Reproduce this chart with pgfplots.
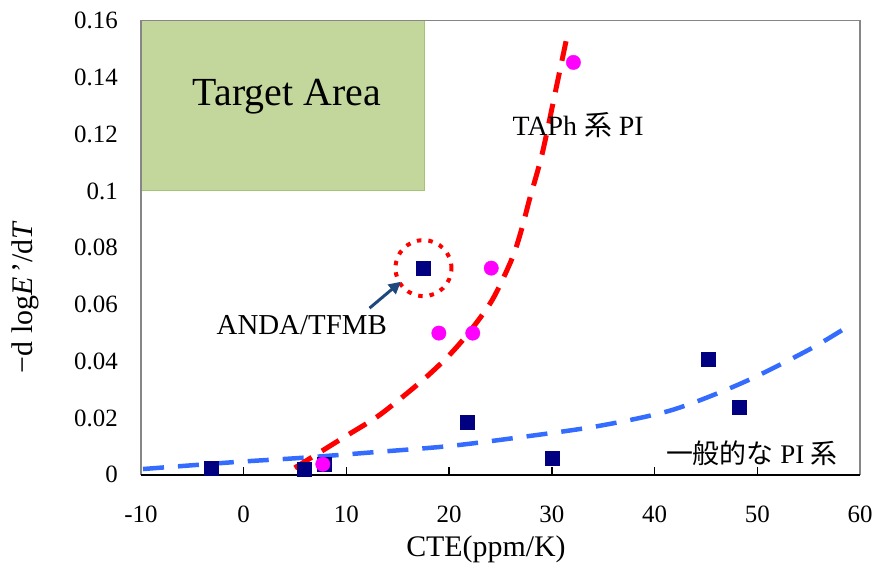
\documentclass[border=0pt]{standalone}
\usepackage{pgfplots}
\pgfplotsset{compat=1.18}
\usepackage{fontspec}
\setmainfont{Liberation Serif}
\newfontfamily\cjk{Noto Sans CJK JP}
\usetikzlibrary{arrows.meta}
\definecolor{navyc}{RGB}{0,0,128}
\definecolor{magc}{RGB}{255,0,255}
\definecolor{bluec}{RGB}{51,108,255}
\definecolor{greenfill}{RGB}{195,214,155}
\definecolor{greenedge}{RGB}{165,195,120}
\definecolor{arrowc}{RGB}{31,73,125}
\definecolor{framec}{RGB}{134,134,134}

\pgfplotstableread{
x y
-3.2 0.0024
5.9 0.0018
17.5 0.0728
21.8 0.0186
30.0 0.0059
45.2 0.0407
48.2 0.0238
7.8 0.0037
}\navydata

\pgfplotstableread{
x y
7.7 0.0037
19.0 0.0499
22.3 0.0499
24.1 0.0728
32.1 0.1453
}\magdata

\pgfplotstableread{
x y
4.97 0.0024
9.63 0.0129
12.94 0.0203
15.46 0.0274
17.8 0.0345
20.03 0.0422
21.97 0.0503
24.2 0.0616
26.15 0.0764
27.12 0.0873
27.8 0.0967
29.07 0.1133
30.52 0.1380
31.4 0.1531
}\redcurve

\pgfplotstableread{
x y
-9.8 0.0020
-0.67 0.0045
5.45 0.0059
12.93 0.0080
20.03 0.0101
27.12 0.0133
34.6 0.0172
41.7 0.0228
48.5 0.0323
55.0 0.0440
58.9 0.0524
}\bluecurve

\begin{document}
\begin{tikzpicture}
\begin{axis}[
  scale only axis, width=719bp, height=454bp,
  xmin=-10, xmax=60, ymin=0, ymax=0.16,
  clip=false,
  axis line style={draw=none},
  xtick={-10,0,10,20,30,40,50,60},
  xticklabels={-10,0,10,20,30,40,50,60},
  ytick={0,0.02,0.04,0.06,0.08,0.1,0.12,0.14,0.16},
  yticklabels={0,0.02,0.04,0.06,0.08,0.1,0.12,0.14,0.16},
  tick align=inside,
  xtick pos=bottom,
  major tick length=8bp,
  xtick style={draw=black, line width=1.5bp},
  ytick style={draw=none},
  ticklabel style={inner sep=0pt, font=\fontsize{25}{30}\selectfont},
  xticklabel style={anchor=north, yshift=-31bp},
  yticklabel style={anchor=east, xshift=-23bp},
  xlabel={CTE(ppm/K)},
  ylabel={−d log\textit{E}\,'/d\textit{T}},
  xlabel style={at={(axis description cs:0.4798,-0.1637)}, anchor=center, font=\fontsize{30}{36}\selectfont},
  ylabel style={at={(axis description cs:-0.1613,0.3914)}, anchor=center, font=\fontsize{30}{36}\selectfont},
]
% target area
\fill[greenfill, draw=greenedge, line width=1bp] (axis cs:-10,0.1) rectangle (axis cs:17.6,0.16);
% frame
\draw[framec, line width=1.5bp] (rel axis cs:0,0) -- (rel axis cs:0,1) -- (rel axis cs:1,1) -- (rel axis cs:1,0);
\draw[black, line width=2bp] (rel axis cs:0,0) -- (rel axis cs:1,0);

\addplot[bluec, line width=4.5bp, dash pattern=on 21bp off 14bp, smooth, no markers] table[x=x,y=y] {\bluecurve};
\addplot[red, line width=5bp, dash pattern=on 20bp off 12bp, smooth, no markers] table[x=x,y=y] {\redcurve};

\addplot[only marks, mark=square*, mark size=7bp, mark options={fill=navyc, draw=navyc}] table[x=x,y=y] {\navydata};
\addplot[only marks, mark=*, mark size=7.2bp, mark options={fill=magc, draw=magc}] table[x=x,y=y] {\magdata};

% annotations
\node[font=\fontsize{40}{48}\selectfont] at (axis cs:4.19,0.1333) {Target Area};
\node[font=\fontsize{28}{34}\selectfont] at (axis cs:32.57,0.1231) {TAPh {\cjk 系} PI};
\node[font=\fontsize{29}{35}\selectfont] at (axis cs:5.65,0.0527) {ANDA/TFMB};
\node[font=\fontsize{27}{33}\selectfont] at (axis cs:49.48,0.0076) {{\cjk 一般的な} PI {\cjk 系}};
\draw[red, line width=4bp, dash pattern=on 4.5bp off 7bp] (axis cs:17.5,0.0728) circle[radius=28bp];
\draw[arrowc, line width=3bp, -{Triangle[length=12bp,width=12bp]}] (axis cs:12.25,0.0587) -- (axis cs:15.3,0.0680);
\end{axis}
\pgfresetboundingbox
\path[use as bounding box] (current axis.south west) ++(-141bp,-96.3bp) rectangle ++(876bp,571bp);
\end{tikzpicture}
\end{document}
